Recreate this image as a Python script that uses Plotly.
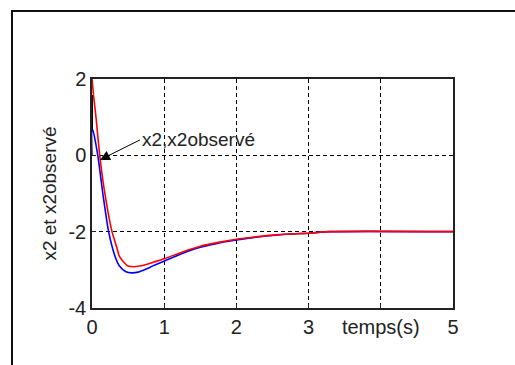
import plotly.graph_objects as go

# Time samples (s) for the state x2 and its observer estimate
t_x2 = [0.0, 0.02, 0.055, 0.107, 0.17, 0.277, 0.34, 0.38, 0.45, 0.5, 0.58, 0.66,
        0.75, 0.85, 1.0, 1.2, 1.35, 1.5, 1.75, 2.0, 2.25, 2.5, 2.75, 3.0, 3.3, 5.0]
x2 = [2.0, 1.6, 1.0, 0.0, -0.9, -2.0, -2.39, -2.65, -2.82, -2.9, -2.92, -2.9,
      -2.86, -2.8, -2.71, -2.57, -2.47, -2.38, -2.28, -2.2, -2.14, -2.09, -2.06,
      -2.04, -2.0, -2.0]

t_obs = [0.0, 0.0, 0.01, 0.08, 0.15, 0.23, 0.32, 0.38, 0.47, 0.55, 0.64, 0.75,
         0.85, 1.0, 1.2, 1.35, 1.5, 1.75, 2.0, 2.25, 2.5, 2.75, 3.0, 3.3, 5.0]
x2_obs = [0.0, 0.66, 0.66, 0.0, -1.0, -2.0, -2.65, -2.9, -3.05, -3.08, -3.06, -2.98,
          -2.89, -2.77, -2.61, -2.5, -2.41, -2.3, -2.22, -2.15, -2.1, -2.06,
          -2.04, -2.0, -2.0]

# Short initial segment drawn in black at t = 0
t_init = [0.0, 0.0]
x_init = [1.58, 0.66]

x_ticks = [0, 1, 2, 3, 4, 5]
x_ticktext = ["0", "1", "2", "3", "temps(s)", "5"]
y_ticks = [-4, -2, 0, 2]
y_ticktext = ["-4", "-2", "0", "2"]

FONT = "Liberation Sans, Arial, sans-serif"
TXT = "#222222"

fig = go.Figure()
fig.add_trace(go.Scatter(x=t_obs, y=x2_obs, mode="lines", name="x2observé",
                         line=dict(color="#0000ff", width=1.6, shape="spline", smoothing=0.6)))
fig.add_trace(go.Scatter(x=t_x2, y=x2, mode="lines", name="x2",
                         line=dict(color="#ff0000", width=1.6, shape="spline", smoothing=0.6)))
fig.add_trace(go.Scatter(x=t_init, y=x_init, mode="lines", showlegend=False,
                         line=dict(color="#000000", width=2)))

fig.update_layout(
    width=515, height=365,
    margin=dict(l=92, r=62, t=79, b=57),
    paper_bgcolor="white", plot_bgcolor="white",
    showlegend=False,
    font=dict(family=FONT, size=20, color=TXT),
    xaxis=dict(range=[0, 5], tickvals=x_ticks, ticktext=x_ticktext,
               showgrid=True, gridcolor="#000000", griddash="4px,3px", gridwidth=1,
               showline=True, linecolor="#222222", linewidth=1.5, mirror=True,
               ticks="inside", ticklen=4, tickcolor="#222222",
               zeroline=False, tickfont=dict(size=20, color=TXT)),
    yaxis=dict(range=[-4, 2], tickvals=y_ticks, ticktext=y_ticktext,
               showgrid=True, gridcolor="#000000", griddash="4px,3px", gridwidth=1,
               showline=True, linecolor="#222222", linewidth=1.5, mirror=True,
               ticks="inside", ticklen=4, tickcolor="#222222",
               zeroline=False, tickfont=dict(size=20, color=TXT),
               title=dict(text="x2 et x2observé", font=dict(size=19, color=TXT),
                          standoff=7)),
    annotations=[dict(
        x=0.11, y=-0.12, xref="x", yref="y",
        text="x2,x2observé", showarrow=True,
        ax=40, ay=-20, xanchor="left", yanchor="middle",
        arrowhead=2, arrowsize=2, arrowwidth=1, arrowcolor="#000000",
        font=dict(size=19, color=TXT),
    )],
    shapes=[dict(type="rect", xref="paper", yref="paper",
                 x0=-0.2216, x1=1.6, y0=-0.6, y1=1.297,
                 line=dict(color="#111111", width=2), fillcolor="rgba(0,0,0,0)")],
)

fig.write_html("out.html")
